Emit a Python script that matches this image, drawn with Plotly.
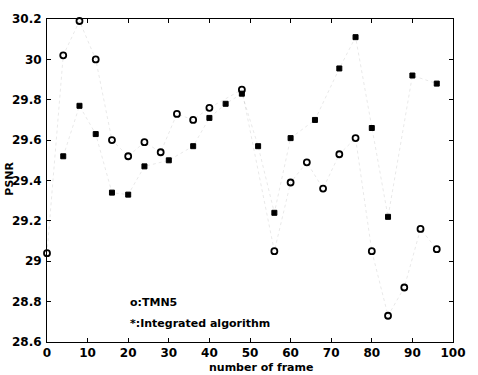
import plotly.graph_objects as go

# PSNR per frame for the two coders
frames_tmn5 = [0, 4, 8, 12, 16, 20, 24, 28, 32, 36, 40, 48, 56, 60, 64, 68, 72, 76, 80, 84, 88, 92, 96]
psnr_tmn5 = [29.04, 30.02, 30.19, 30.00, 29.60, 29.52, 29.59, 29.54, 29.73, 29.70, 29.76, 29.85,
             29.05, 29.39, 29.49, 29.36, 29.53, 29.61, 29.05, 28.73, 28.87, 29.16, 29.06]

frames_int = [4, 8, 12, 16, 20, 24, 30, 36, 40, 44, 48, 52, 56, 60, 66, 72, 76, 80, 84, 90, 96]
psnr_int = [29.52, 29.77, 29.63, 29.34, 29.33, 29.47, 29.50, 29.57, 29.71, 29.78, 29.83, 29.57,
            29.24, 29.61, 29.70, 29.955, 30.11, 29.66, 29.22, 29.92, 29.88]

x_ticks = [0, 10, 20, 30, 40, 50, 60, 70, 80, 90, 100]
y_ticks = [28.6, 28.8, 29.0, 29.2, 29.4, 29.6, 29.8, 30.0, 30.2]
y_tick_text = ["28.6", "28.8", "29", "29.2", "29.4", "29.6", "29.8", "30", "30.2"]

FONT = "DejaVu Sans"
faint = "rgba(0,0,0,0.09)"

W, H = 478, 375
ML, MR, MT, MB = 45, 15, 12, 33
plot_w = W - ML - MR
plot_h = H - MT - MB


def px_to_paper(px, py):
    return (px - ML) / plot_w, (H - MB - py) / plot_h


fig = go.Figure()

fig.add_trace(go.Scatter(
    x=frames_tmn5, y=psnr_tmn5, mode="lines+markers", name="TMN5",
    line=dict(color=faint, width=1, dash="dot"),
    marker=dict(symbol="circle-open", size=6, color="black", line=dict(width=1.8, color="black")),
    cliponaxis=False,
))
fig.add_trace(go.Scatter(
    x=frames_int, y=psnr_int, mode="lines+markers", name="Integrated algorithm",
    line=dict(color=faint, width=1, dash="dot"),
    marker=dict(symbol="square", size=5, color="black", line=dict(width=1, color="black")),
    cliponaxis=False,
))

# in-plot key text
fig.add_annotation(x=20, y=28.795, xref="x", yref="y", text="<b>o:TMN5</b>", showarrow=False,
                   xanchor="left", yanchor="middle", font=dict(family=FONT, size=11, color="black"))
fig.add_annotation(x=20, y=28.69, xref="x", yref="y", text="<b>*:Integrated algorithm</b>", showarrow=False,
                   xanchor="left", yanchor="middle", font=dict(family=FONT, size=11, color="black"))

# axis titles
tx, ty = px_to_paper(265, 368)
fig.add_annotation(x=tx, y=ty, xref="paper", yref="paper", text="<b>number of frame</b>",
                   showarrow=False, xanchor="center", yanchor="middle",
                   font=dict(family=FONT, size=11, color="black"))
px_, py_ = px_to_paper(6, 175)
fig.add_annotation(x=px_, y=py_, xref="paper", yref="paper",
                   text="<b>PSNR</b>", textangle=-90, showarrow=False,
                   xanchor="center", yanchor="middle",
                   font=dict(family=FONT, size=11, color="black"))

fig.update_layout(
    width=W, height=H,
    margin=dict(l=ML, r=MR, t=MT, b=MB),
    paper_bgcolor="white", plot_bgcolor="white",
    showlegend=False,
    font=dict(family=FONT, color="black"),
)

fig.update_xaxes(
    range=[0, 100], tickvals=x_ticks, ticktext=[str(v) for v in x_ticks],
    showgrid=False, zeroline=False,
    showline=True, linecolor="black", linewidth=1, mirror="ticks",
    ticks="inside", ticklen=4, tickcolor="black", tickwidth=1,
    tickfont=dict(family=FONT, size=12, color="black", weight="bold"),
    ticklabelstandoff=0,
)
fig.update_yaxes(
    range=[28.6, 30.2], tickvals=y_ticks, ticktext=y_tick_text,
    showgrid=False, zeroline=False,
    showline=True, linecolor="black", linewidth=1, mirror="ticks",
    ticks="inside", ticklen=4, tickcolor="black", tickwidth=1,
    tickfont=dict(family=FONT, size=12, color="black", weight="bold"),
    ticklabelstandoff=2,
)

fig.write_html("out.html")
